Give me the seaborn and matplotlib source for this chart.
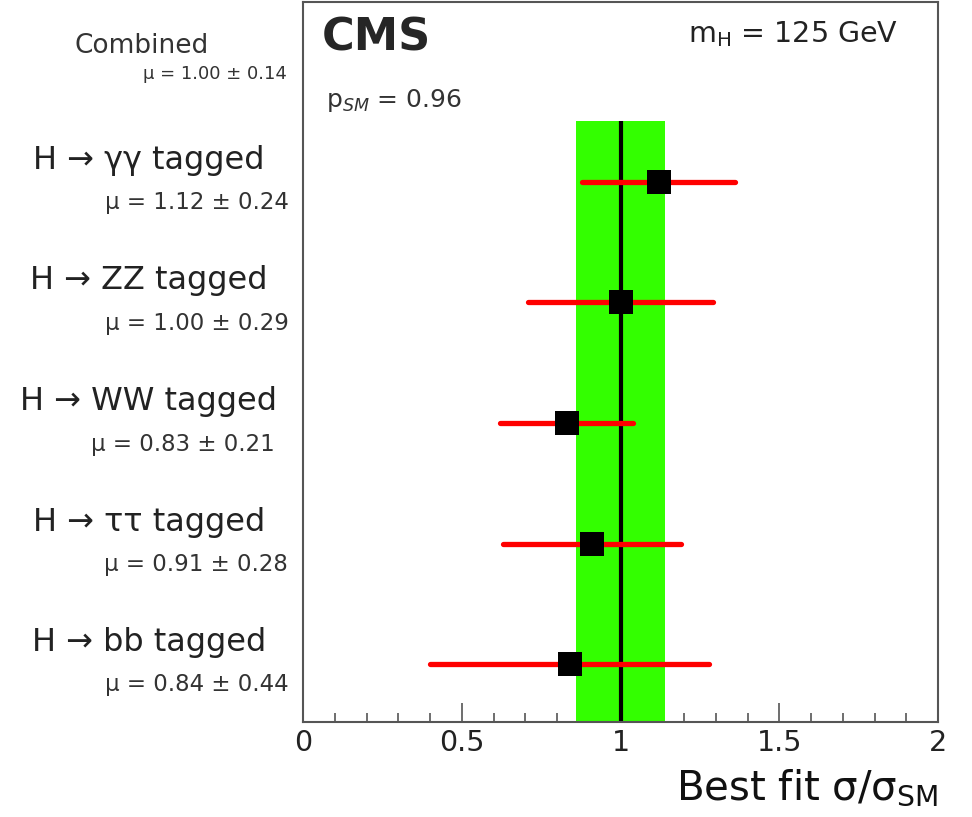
import matplotlib
matplotlib.use("Agg")
import matplotlib.pyplot as plt
import seaborn as sns
import pandas as pd
import numpy as np
from matplotlib.ticker import MultipleLocator

# Signal strength per tagged channel (top to bottom)
channels = ["H \u2192 \u03b3\u03b3 tagged", "H \u2192 ZZ tagged", "H \u2192 WW tagged",
            "H \u2192 \u03c4\u03c4 tagged", "H \u2192 bb tagged"]
mu_values = [1.12, 1.00, 0.83, 0.91, 0.84]
mu_errors = [0.24, 0.29, 0.21, 0.28, 0.44]

combined_mu = 1.00
combined_err = 0.14
p_sm = 0.96
mass_label = "125 GeV"
tick_values = [0, 0.5, 1, 1.5, 2]
tick_labels = ["0", "0.5", "1", "1.5", "2"]

sns.set_theme(style="white")
plt.rcParams["font.family"] = ["DejaVu Sans"]
plt.rcParams["mathtext.fontset"] = "dejavusans"

W, H = 972, 817
fig = plt.figure(figsize=(W / 100, H / 100), dpi=100)
fig.patch.set_facecolor("white")

def fx(px):
    return px / W

def fy(py):
    return 1 - py / H

ax = fig.add_axes([fx(303), fy(722), fx(938) - fx(303), fy(2) - fy(722)])

n = len(channels)
ypos = np.arange(n)[::-1]  # first channel at the top
df = pd.DataFrame({"channel": channels, "mu": mu_values, "err": mu_errors, "y": ypos})

ymin, ymax = -0.48, 5.49
ax.set_xlim(0, 2)
ax.set_ylim(ymin, ymax)

# Combined result band and central line
band_top = n - 0.5
ax.fill_betweenx([ymin, band_top], combined_mu - combined_err, combined_mu + combined_err,
                 color="#33ff00", lw=0, zorder=1)
ax.plot([combined_mu, combined_mu], [ymin, band_top], color="black", lw=3, zorder=2,
        solid_capstyle="butt")

# Per-channel uncertainties
ax.hlines(df["y"], df["mu"] - df["err"], df["mu"] + df["err"], color="red", lw=3.8,
          zorder=3, capstyle="round")
sns.scatterplot(data=df, x="mu", y="y", marker="s", s=300, color="black",
                edgecolor="black", linewidth=0, zorder=4, ax=ax, legend=False)

ax.set_ylabel("")
ax.set_yticks([])
ax.set_xlabel("")
ax.xaxis.set_minor_locator(MultipleLocator(0.1))
ax.set_xticks(tick_values)
ax.set_xticklabels(tick_labels)
ax.tick_params(axis="x", which="major", direction="in", length=14, width=1.2,
               color="#555555", labelsize=20.5, pad=5, labelcolor="#222222", bottom=True)
ax.tick_params(axis="x", which="minor", direction="in", length=6.5, width=1.2,
               color="#555555", bottom=True)
for s in ax.spines.values():
    s.set_color("#555555")
    s.set_linewidth(1.5)

# Axis title
fig.text(fx(938), fy(799), r"Best fit $\mathregular{\sigma/\sigma_{SM}}$", ha="right",
         va="baseline", fontsize=29, color="#111111")

# In-frame annotations
fig.text(fx(322), fy(38), "CMS", ha="left", va="center", fontsize=32, fontweight="bold")
fig.text(fx(898), fy(34), r"$\mathregular{m_{H}}$ = " + mass_label, ha="right",
         va="center", fontsize=20.5, color="#222222")
fig.text(fx(326), fy(100), r"$\mathregular{p_{\mathit{SM}}}$ = " + f"{p_sm:.2f}",
         ha="left", va="center", fontsize=18, color="#333333")

# Row labels to the left of the frame
fig.text(fx(142), fy(46), "Combined", ha="center", va="center", fontsize=19, color="#333333")
fig.text(fx(287), fy(74), f"\u03bc = {combined_mu:.2f} \u00b1 {combined_err:.2f}",
         ha="right", va="center", fontsize=13, color="#333333")

row_px = [182, 302, 423, 544, 664]
mu_right_px = [289, 289, 275, 288, 289]
for (_, r), py, xr in zip(df.iterrows(), row_px, mu_right_px):
    fig.text(fx(149), fy(py - 21), r["channel"], ha="center", va="center",
             fontsize=23, color="#222222")
    fig.text(fx(xr), fy(py + 21), f"\u03bc = {r['mu']:.2f} \u00b1 {r['err']:.2f}",
             ha="right", va="center", fontsize=16.5, color="#333333")

fig.savefig("out.png", dpi=100)
